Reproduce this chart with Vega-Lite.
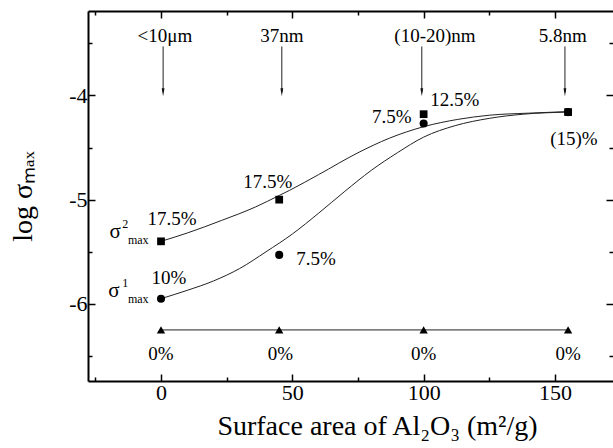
{
  "$schema": "https://vega.github.io/schema/vega-lite/v6.json",
  "width": 525,
  "height": 370,
  "autosize": "none",
  "padding": {"left": 88, "top": 11, "right": 0, "bottom": 67},
  "config": {
    "view": {"stroke": null},
    "font": "Liberation Serif",
    "mark": {"font": "Liberation Serif"},
    "text": {"font": "Liberation Serif"},
    "axis": {
      "domainColor": "black", "domainWidth": 2, "tickColor": "black", "tickWidth": 1.5,
      "labelFont": "Liberation Serif", "labelFontSize": 22, "labelColor": "black",
      "titleFont": "Liberation Serif", "titleFontSize": 28, "titleFontWeight": "normal", "titleColor": "black",
      "grid": false
    }
  },
  "datasets": {
    "pts": [
      {"s": "sq", "x": 0, "y": -5.40}, {"s": "sq", "x": 45, "y": -5.00}, {"s": "sq", "x": 100, "y": -4.18}, {"s": "sq", "x": 155, "y": -4.16},
      {"s": "ci", "x": 0, "y": -5.95}, {"s": "ci", "x": 45, "y": -5.53}, {"s": "ci", "x": 100, "y": -4.27}, {"s": "ci", "x": 155, "y": -4.16},
      {"s": "tri", "x": 0, "y": -6.25}, {"s": "tri", "x": 45, "y": -6.25}, {"s": "tri", "x": 100, "y": -6.25}, {"s": "tri", "x": 155, "y": -6.25}
    ],
    "fit": [
      {"c": "upper", "x": 0, "y": -5.40}, {"c": "upper", "x": 10, "y": -5.32}, {"c": "upper", "x": 23, "y": -5.20}, {"c": "upper", "x": 36, "y": -5.07},
      {"c": "upper", "x": 45, "y": -4.96}, {"c": "upper", "x": 49, "y": -4.91}, {"c": "upper", "x": 60, "y": -4.76}, {"c": "upper", "x": 75, "y": -4.55},
      {"c": "upper", "x": 87, "y": -4.41}, {"c": "upper", "x": 100, "y": -4.30}, {"c": "upper", "x": 113, "y": -4.23}, {"c": "upper", "x": 125, "y": -4.19},
      {"c": "upper", "x": 140, "y": -4.17}, {"c": "upper", "x": 155, "y": -4.155},
      {"c": "lower", "x": 0, "y": -5.95}, {"c": "lower", "x": 10, "y": -5.87}, {"c": "lower", "x": 20, "y": -5.78}, {"c": "lower", "x": 30, "y": -5.66},
      {"c": "lower", "x": 40, "y": -5.50}, {"c": "lower", "x": 50, "y": -5.33}, {"c": "lower", "x": 60, "y": -5.13}, {"c": "lower", "x": 70, "y": -4.92},
      {"c": "lower", "x": 80, "y": -4.72}, {"c": "lower", "x": 90, "y": -4.55}, {"c": "lower", "x": 100, "y": -4.40}, {"c": "lower", "x": 112, "y": -4.29},
      {"c": "lower", "x": 125, "y": -4.22}, {"c": "lower", "x": 138, "y": -4.18}, {"c": "lower", "x": 155, "y": -4.16}
    ],
    "arrows": [
      {"x": 0.8, "top": -3.53, "bot": -3.97, "label": "<10μm", "lx": 1.5},
      {"x": 46, "top": -3.53, "bot": -3.97, "label": "37nm", "lx": 46},
      {"x": 99.3, "top": -3.53, "bot": -3.97, "label": "(10-20)nm", "lx": 104.3},
      {"x": 153.8, "top": -3.53, "bot": -3.97, "label": "5.8nm", "lx": 153}
    ],
    "labels": [
      {"t": "17.5%", "x": 4.2, "y": -5.19},
      {"t": "10%", "x": 3.0, "y": -5.75},
      {"t": "17.5%", "x": 40.7, "y": -4.83},
      {"t": "7.5%", "x": 59.0, "y": -5.57},
      {"t": "7.5%", "x": 87.9, "y": -4.21},
      {"t": "12.5%", "x": 111.9, "y": -4.04},
      {"t": "(15)%", "x": 157.2, "y": -4.42},
      {"t": "0%", "x": 0, "y": -6.48},
      {"t": "0%", "x": 45.5, "y": -6.48},
      {"t": "0%", "x": 100, "y": -6.48},
      {"t": "0%", "x": 155, "y": -6.48}
    ],
    "sigma": [
      {"t": "σ", "x": -17.5, "y": -5.365},
      {"t": "σ", "x": -17.9, "y": -5.93}
    ],
    "scripts": [
      {"t": "2", "x": -14.8, "y": -5.27},
      {"t": "max", "x": -12.6, "y": -5.43},
      {"t": "1", "x": -14.8, "y": -5.835},
      {"t": "max", "x": -12.6, "y": -5.99}
    ]
  },
  "resolve": {"axis": {"x": "independent", "y": "independent"}},
  "layer": [
    {
      "data": {"name": "fit"},
      "mark": {"type": "line", "interpolate": "monotone", "color": "#222", "strokeWidth": 1},
      "encoding": {
        "x": {"field": "x", "type": "quantitative",
          "scale": {"domain": [-27.8, 172.1], "nice": false, "zero": false},
          "axis": {"orient": "bottom", "values": [-25, 0, 25, 50, 75, 100, 125, 150],
            "labelExpr": "datum.value % 50 === 0 ? '' + datum.value : ''",
            "tickSize": {"condition": {"test": "datum.value % 50 === 0", "value": -7}, "value": -4},
            "labelPadding": 8, "title": "Surface area of Al₂O₃ (m²/g)", "titleX": 289, "titlePadding": 9}},
        "y": {"field": "y", "type": "quantitative",
          "scale": {"domain": [-6.74, -3.19], "nice": false, "zero": false},
          "axis": {"orient": "left", "values": [-6.5, -6, -5.5, -5, -4.5, -4, -3.5],
            "labelExpr": "datum.value % 1 === 0 ? '' + datum.value : ''",
            "tickSize": {"condition": {"test": "datum.value % 1 === 0", "value": -7}, "value": -4},
            "labelPadding": 8, "title": "log σₘₐₓ", "titlePadding": 31}},
        "detail": {"field": "c"}
      }
    },
    {
      "data": {"name": "pts"},
      "transform": [{"filter": "datum.s === 'tri'"}],
      "mark": {"type": "line", "color": "#222", "strokeWidth": 1},
      "encoding": {
        "x": {"field": "x", "type": "quantitative",
          "axis": {"orient": "top", "values": [-25, 0, 25, 50, 75, 100, 125, 150], "labels": false, "title": null,
            "tickSize": {"condition": {"test": "datum.value % 50 === 0", "value": -7}, "value": -4}}},
        "y": {"field": "y", "type": "quantitative",
          "axis": {"orient": "right", "values": [-6.5, -6, -5.5, -5, -4.5, -4, -3.5], "labels": false, "title": null, "domain": false,
            "tickSize": {"condition": {"test": "datum.value % 1 === 0", "value": -7}, "value": -4}}}
      }
    },
    {
      "data": {"name": "arrows"},
      "mark": {"type": "rule", "color": "#222", "strokeWidth": 1},
      "encoding": {
        "x": {"field": "x", "type": "quantitative", "axis": null},
        "y": {"field": "top", "type": "quantitative", "axis": null},
        "y2": {"field": "bot"}
      }
    },
    {
      "data": {"name": "arrows"},
      "mark": {"type": "point", "shape": "M-0.35,-1L0.35,-1L0,1Z", "filled": true, "color": "#111", "opacity": 1, "size": 64},
      "encoding": {
        "x": {"field": "x", "type": "quantitative", "axis": null},
        "y": {"field": "bot", "type": "quantitative", "axis": null}
      }
    },
    {
      "data": {"name": "arrows"},
      "mark": {"type": "text", "fontSize": 19, "font": "Liberation Serif", "color": "black", "baseline": "middle", "align": "center"},
      "encoding": {
        "x": {"field": "lx", "type": "quantitative", "axis": null},
        "y": {"datum": -3.43, "type": "quantitative", "axis": null},
        "text": {"field": "label"}
      }
    },
    {
      "data": {"name": "pts"},
      "mark": {"type": "point", "filled": true, "color": "black", "opacity": 1},
      "encoding": {
        "x": {"field": "x", "type": "quantitative", "axis": null},
        "y": {"field": "y", "type": "quantitative", "axis": null},
        "shape": {"field": "s", "type": "nominal", "scale": {"domain": ["sq", "ci", "tri"], "range": ["square", "circle", "triangle-up"]}, "legend": null},
        "size": {"field": "s", "type": "nominal", "scale": {"domain": ["sq", "ci", "tri"], "range": [60, 70, 130]}, "legend": null}
      }
    },
    {
      "data": {"name": "labels"},
      "mark": {"type": "text", "fontSize": 19, "font": "Liberation Serif", "color": "black", "baseline": "middle", "align": "center"},
      "encoding": {
        "x": {"field": "x", "type": "quantitative", "axis": null},
        "y": {"field": "y", "type": "quantitative", "axis": null},
        "text": {"field": "t"}
      }
    },
    {
      "data": {"name": "sigma"},
      "mark": {"type": "text", "fontSize": 21, "font": "Liberation Serif", "color": "black", "baseline": "alphabetic", "align": "center"},
      "encoding": {
        "x": {"field": "x", "type": "quantitative", "axis": null},
        "y": {"field": "y", "type": "quantitative", "axis": null},
        "text": {"field": "t"}
      }
    },
    {
      "data": {"name": "scripts"},
      "mark": {"type": "text", "fontSize": 12, "font": "Liberation Serif", "color": "black", "baseline": "alphabetic", "align": "left"},
      "encoding": {
        "x": {"field": "x", "type": "quantitative", "axis": null},
        "y": {"field": "y", "type": "quantitative", "axis": null},
        "text": {"field": "t"}
      }
    }
  ]
}
